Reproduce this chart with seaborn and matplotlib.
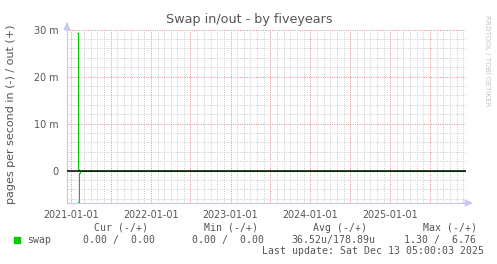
import matplotlib
matplotlib.use("Agg")
import matplotlib.pyplot as plt
import matplotlib.dates as mdates
import matplotlib.ticker as mticker
import numpy as np
import pandas as pd
import seaborn as sns

# ---- data (values in milli-pages/s) ----
out_dates = ["2021-01-28", "2021-02-02", "2021-02-07", "2025-12-10"]
out_values = [29.3, 0.3, 0.0, 0.0]          # swap out (+)
in_dates = ["2021-01-31", "2021-02-06", "2021-02-10", "2025-12-10"]
in_values = [6.7, 0.5, 0.0, 0.0]            # swap in (-), drawn below zero

x_start, x_end = "2020-12-13", "2025-12-13"
y_ticks = [0, 10, 20, 30]

legend_headers = ["Cur (-/+)", "Min (-/+)", "Avg (-/+)", "Max (-/+)"]
legend_label = "swap"
legend_values = ["0.00 /  0.00", "0.00 /  0.00", "36.52u/178.89u", "1.30 /  6.76"]
last_update = "Last update: Sat Dec 13 05:00:03 2025"

sns.set_theme(style="white")
plt.rcParams["font.family"] = ["DejaVu Sans"]

W, H = 497, 264
fig = plt.figure(figsize=(W / 100, H / 100), dpi=100)
fig.patch.set_facecolor("white")

L, R, T, B = 67, 466, 29.5, 203
ax = fig.add_axes([L / W, 1 - B / H, (R - L) / W, (B - T) / H])
ax.set_facecolor("white")

df_out = pd.DataFrame({"date": pd.to_datetime(out_dates), "v": out_values})
df_in = pd.DataFrame({"date": pd.to_datetime(in_dates), "v": [-v for v in in_values]})

green = "#00cc00"
sns.lineplot(data=df_out, x="date", y="v", ax=ax, color=green, lw=0.75,
             drawstyle="steps-post", estimator=None, zorder=3)
sns.lineplot(data=df_in, x="date", y="v", ax=ax, color=green, lw=0.75,
             drawstyle="steps-post", estimator=None, zorder=3)
ax.axhline(0, color="black", lw=1.1, zorder=4)

ax.set_xlim(pd.Timestamp(x_start), pd.Timestamp(x_end))
ax.set_ylim(-6.9, 30)

# grids
grid_gray = "#cdcdcd"
grid_red = "#ea8f8f"
ax.xaxis.set_major_locator(mdates.MonthLocator(bymonth=[1, 7]))
ax.xaxis.set_minor_locator(mdates.MonthLocator(bymonth=[2, 3, 4, 5, 6, 8, 9, 10, 11, 12]))
ax.xaxis.set_major_formatter(mticker.FuncFormatter(
    lambda v, p: mdates.num2date(v).strftime("%Y-%m-%d") if mdates.num2date(v).month == 1 else ""))
ax.yaxis.set_major_locator(mticker.FixedLocator(y_ticks))
ax.yaxis.set_minor_locator(mticker.MultipleLocator(2))
ax.yaxis.set_major_formatter(mticker.FuncFormatter(lambda v, p: "0" if v == 0 else f"{int(v)} m"))

ax.grid(which="minor", color=grid_gray, lw=0.72, linestyle=(0, (1, 1.3)))
ax.grid(which="major", color=grid_red, lw=0.72, linestyle=(0, (1, 1.3)))

lab_col = "#555555"
ax.tick_params(axis="both", which="major", labelsize=6.9, labelcolor=lab_col,
               length=2, width=0.7, color=grid_red, direction="out")
ax.tick_params(axis="both", which="minor", length=0)
ax.tick_params(axis="x", pad=3.0)
ax.tick_params(axis="y", pad=4.0)

axis_col = "#c8c8f4"
for s in ["top", "right"]:
    ax.spines[s].set_visible(False)
for s in ["left", "bottom"]:
    ax.spines[s].set_color(axis_col)
    ax.spines[s].set_linewidth(0.8)
    ax.spines[s].set_zorder(2)

# axis arrows
ax.annotate("", xy=(0, 1.045), xytext=(0, 0.99), xycoords="axes fraction",
            arrowprops=dict(arrowstyle="-|>,head_length=0.4,head_width=0.18",
                            color=axis_col, lw=0.8, shrinkA=0, shrinkB=0))
ax.annotate("", xy=(1.018, 0), xytext=(0.99, 0), xycoords="axes fraction",
            arrowprops=dict(arrowstyle="-|>,head_length=0.4,head_width=0.18",
                            color=axis_col, lw=0.8, shrinkA=0, shrinkB=0))

ax.set_xlabel("")
ax.set_ylabel("")

fig.text(249 / W, 1 - 19.5 / H, "Swap in/out - by fiveyears", ha="center", va="center",
         fontsize=9.2, color=lab_col)
fig.text(11.5 / W, 1 - 114.5 / H, "pages per second in (-) / out (+)", rotation=90,
         ha="center", va="center", fontsize=8.0, color=lab_col)
fig.text(487 / W, 1 - 61 / H, "RRDTOOL / TOBI OETIKER", rotation=270,
         ha="center", va="center", fontsize=5.1, color="#c4c4c4")

mono = "DejaVu Sans Mono"
fs = 7.1
for hx, txt in zip([94, 204, 312.7, 422.7], legend_headers):
    fig.text(hx / W, 1 - 228 / H, txt, ha="left", va="center", family=mono,
             fontsize=fs, color=lab_col)
fig.patches.append(plt.Rectangle((14 / W, 1 - 243 / H), 6 / W, 6 / H,
                                 transform=fig.transFigure, color=green))
fig.text(26.7 / W, 1 - 240 / H, legend_label, ha="left", va="center", family=mono,
         fontsize=fs, color=lab_col)
for vx, txt in zip([83, 191.5, 291, 404], legend_values):
    fig.text(vx / W, 1 - 240 / H, txt, ha="left", va="center", family=mono,
             fontsize=fs, color=lab_col)
fig.text(261.7 / W, 1 - 251 / H, last_update, ha="left", va="center", family=mono,
         fontsize=fs, color=lab_col)

fig.savefig("out.png", dpi=100, facecolor="white")
